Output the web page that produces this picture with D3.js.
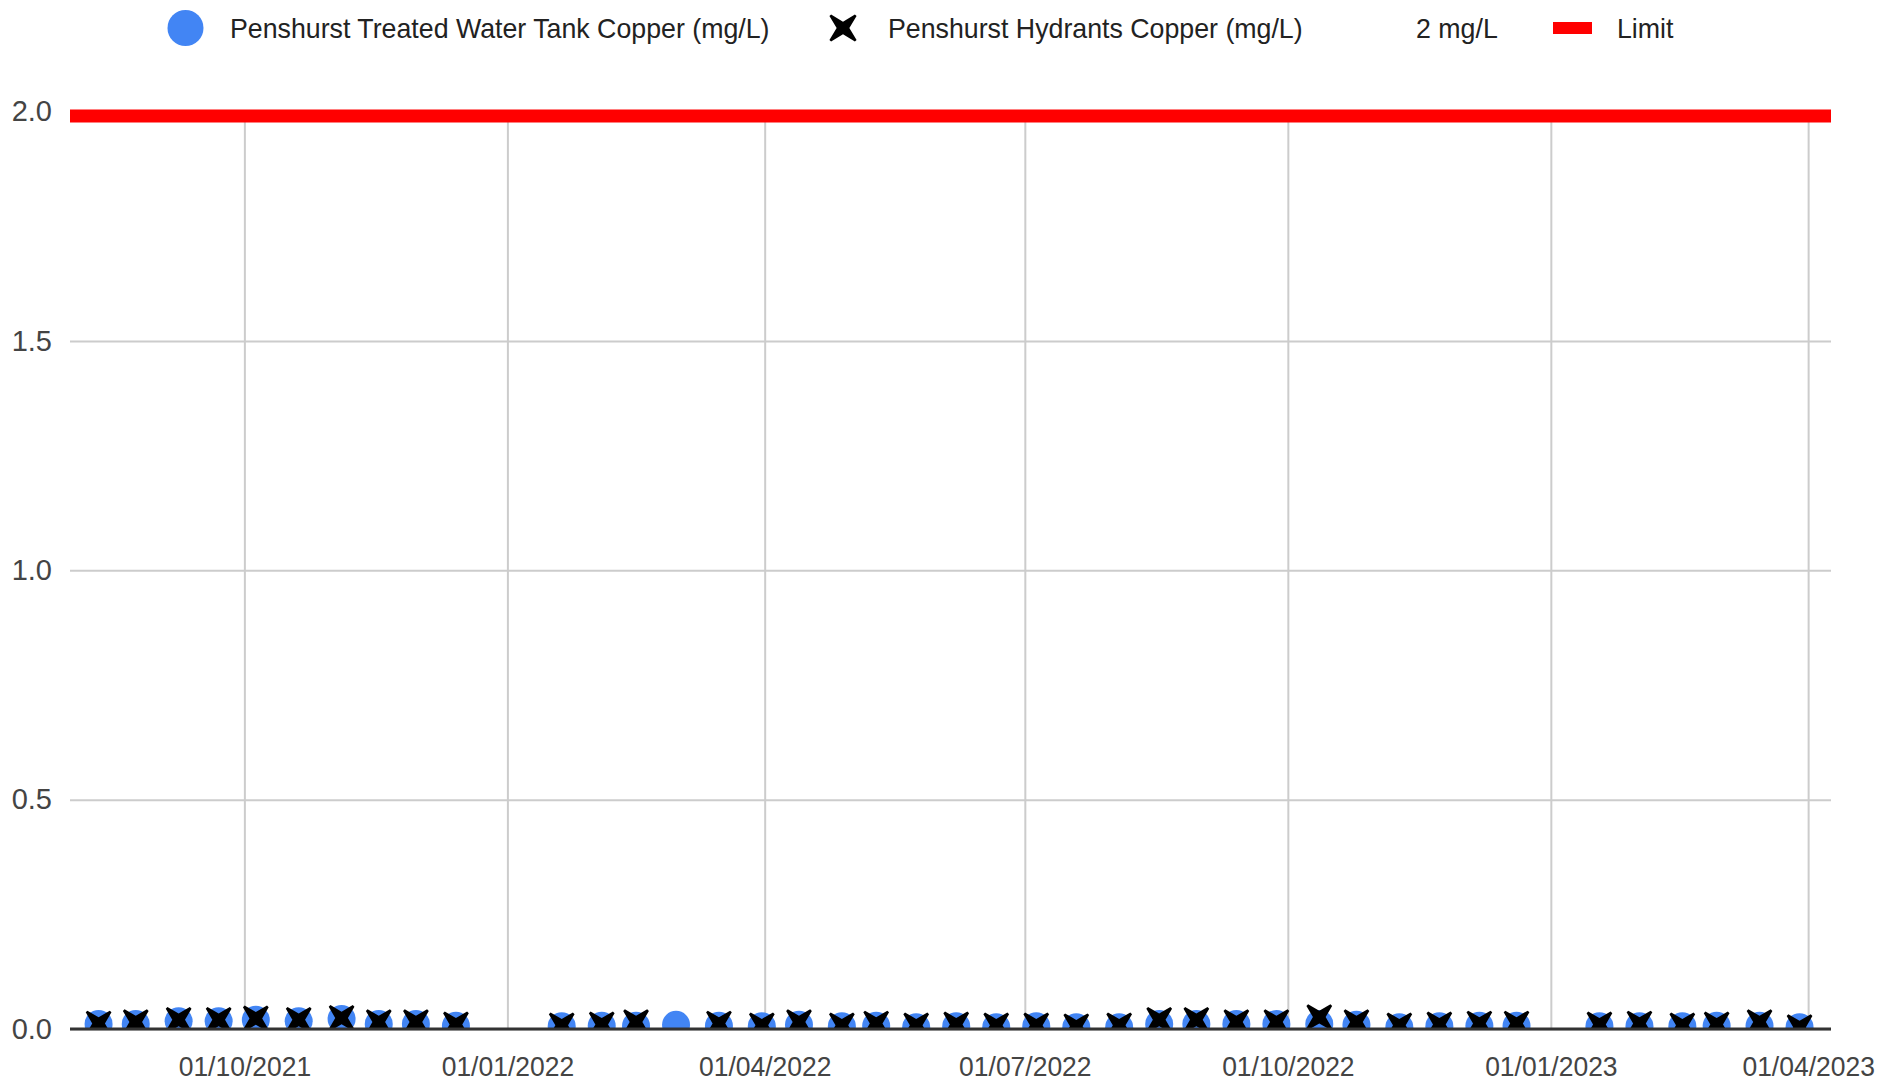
<!DOCTYPE html>
<html>
<head>
<meta charset="utf-8">
<script src="https://cdn.jsdelivr.net/npm/d3@7"></script>
<style>
  html, body { margin: 0; padding: 0; background: #fff; }
  svg { display: block; }
  text { font-family: Arial, "Liberation Sans", sans-serif; }
</style>
</head>
<body>
<svg id="chart" width="1901" height="1086"></svg>
<script>
// ---- Data ----
const sampleDates = [
  "2021-08-11","2021-08-24","2021-09-08","2021-09-22","2021-10-05","2021-10-20","2021-11-04",
  "2021-11-17","2021-11-30","2021-12-14","2022-01-20","2022-02-03","2022-02-15","2022-03-01",
  "2022-03-16","2022-03-31","2022-04-13","2022-04-28","2022-05-10","2022-05-24","2022-06-07",
  "2022-06-21","2022-07-05","2022-07-19","2022-08-03","2022-08-17","2022-08-30","2022-09-13",
  "2022-09-27","2022-10-12","2022-10-25","2022-11-09","2022-11-23","2022-12-07","2022-12-20",
  "2023-01-18","2023-02-01","2023-02-16","2023-02-28","2023-03-15","2023-03-29"
];
const tankCopper = [
  0.011,0.011,0.017,0.017,0.020,0.017,0.022,
  0.011,0.011,0.007,0.006,0.007,0.007,0.009,
  0.007,0.006,0.009,0.006,0.007,0.004,0.006,
  0.004,0.006,0.004,0.004,0.011,0.011,0.011,
  0.011,0.011,0.009,0.004,0.006,0.007,0.007,
  0.006,0.006,0.006,0.007,0.007,0.004
];
const hydrantCopper = [
  0.012,0.015,0.020,0.020,0.023,0.020,0.024,
  0.015,0.015,0.010,0.008,0.010,0.015,null,
  0.012,0.008,0.015,0.008,0.012,0.008,0.010,
  0.008,0.008,0.006,0.008,0.020,0.020,0.015,
  0.015,0.026,0.015,0.008,0.010,0.012,0.012,
  0.010,0.012,0.008,0.010,0.015,0.004
];
const limitValue = 2;
const limitDates = ["2021-08-01","2023-04-09"];
const yTicks = [0, 0.5, 1.0, 1.5, 2.0];
const yTickLabels = ["0.0","0.5","1.0","1.5","2.0"];
const xTickDates = ["2021-10-01","2022-01-01","2022-04-01","2022-07-01","2022-10-01","2023-01-01","2023-04-01"];
const xTickLabels = ["01/10/2021","01/01/2022","01/04/2022","01/07/2022","01/10/2022","01/01/2023","01/04/2023"];
const legendLabels = ["Penshurst Treated Water Tank Copper (mg/L)","Penshurst Hydrants Copper (mg/L)","2 mg/L","Limit"];

(function(){
// ---- Layout ----
const parse = d3.timeParse("%Y-%m-%d");
const pl = 70, pr = 1831, pt = 111.5, pb = 1029;
const svg = d3.select("#chart");
svg.append("rect").attr("width",1901).attr("height",1086).attr("fill","#fff");

const x = d3.scaleTime()
  .domain([parse("2021-08-01"), parse("2023-04-09")])
  .range([pl, pr]);
const y = d3.scaleLinear().domain([0, 2]).range([pb, pt]);

const blue = "#4285f4";
const textColor = "#444";

function condense(sel, f){
  sel.each(function(){
    const w = this.getComputedTextLength();
    this.setAttribute("textLength", (w*f).toFixed(2));
    this.setAttribute("lengthAdjust", "spacingAndGlyphs");
  });
}

// gridlines (horizontal) + y labels
const yAxis = d3.axisLeft(y).tickValues(yTicks).tickSize(-(pr-pl))
  .tickFormat((d,i)=>yTickLabels[i]).tickPadding(18);
const gy = svg.append("g").attr("transform",`translate(${pl},0)`).call(yAxis);
gy.select(".domain").remove();
gy.selectAll(".tick line").attr("stroke","#cccccc").attr("stroke-width",2);
gy.selectAll(".tick").filter(d=>d===2).select("line").remove();
gy.selectAll(".tick text").attr("fill",textColor).attr("font-size",29)
  .attr("font-family","Arial, 'Liberation Sans', sans-serif");

// gridlines (vertical) + x labels
const xAxis = d3.axisBottom(x).tickValues(xTickDates.map(parse))
  .tickSize(-(pb-pt)).tickFormat((d,i)=>xTickLabels[i]).tickPadding(27);
const gx = svg.append("g").attr("transform",`translate(0,${pb})`).call(xAxis);
gx.select(".domain").remove();
gx.selectAll(".tick line").attr("stroke","#cccccc").attr("stroke-width",2);
gx.selectAll(".tick text").attr("fill",textColor).attr("font-size",28)
  .attr("font-family","Arial, 'Liberation Sans', sans-serif");
condense(gx.selectAll(".tick text"), 0.945);

// limit line (thick band just under the 2.0 level, as in the source chart)
svg.append("line")
  .attr("x1", x(parse(limitDates[0]))).attr("x2", x(parse(limitDates[1])))
  .attr("y1", y(limitValue)+4.5).attr("y2", y(limitValue)+4.5)
  .attr("stroke","#ff0000").attr("stroke-width",13);

// clip to plot area (points are cut at the baseline)
svg.append("clipPath").attr("id","plotclip").append("rect")
  .attr("x",pl-30).attr("y",pt-30).attr("width",pr-pl+60).attr("height",pb-pt+30);

const plot = svg.append("g").attr("clip-path","url(#plotclip)");

plot.selectAll("circle.tank").data(sampleDates.map((d,i)=>({d:parse(d), v:tankCopper[i]})))
  .join("circle").attr("class","tank")
  .attr("cx", d=>x(d.d)).attr("cy", d=>y(d.v)).attr("r",14).attr("fill",blue);

// tapered X marker: a plus with narrowing arms, rotated 45 degrees
function crossX(L, h, t){
  const base = [[-t,-L],[t,-L],[h,-h],[L,-t],[L,t],[h,h],[t,L],[-t,L],[-h,h],[-L,t],[-L,-t],[-h,-h]];
  const c = Math.SQRT1_2;
  const pts = base.map(([a,b])=>[(a-b)*c,(a+b)*c]);
  return "M"+pts.map(p=>p[0].toFixed(2)+","+p[1].toFixed(2)).join("L")+"Z";
}

plot.selectAll("path.hyd").data(sampleDates.map((d,i)=>({d:parse(d), v:hydrantCopper[i]})).filter(d=>d.v!=null))
  .join("path").attr("class","hyd")
  .attr("transform", d=>`translate(${x(d.d)},${y(d.v)})`)
  .attr("d", crossX(17, 4.5, 1.2)).attr("fill","#000");

// baseline axis
svg.append("line").attr("x1",pl).attr("x2",pr).attr("y1",pb).attr("y2",pb)
  .attr("stroke","#333").attr("stroke-width",3);

// ---- Legend ----
const leg = svg.append("g");
const ly = 28;
leg.append("circle").attr("cx",185.5).attr("cy",ly).attr("r",18).attr("fill",blue);
leg.append("text").attr("x",230).attr("y",ly+10).text(legendLabels[0]);
leg.append("path").attr("transform",`translate(843,${ly})`).attr("d",crossX(18,4.5,1.2)).attr("fill","#000");
leg.append("text").attr("x",888).attr("y",ly+10).text(legendLabels[1]);
leg.append("text").attr("x",1416).attr("y",ly+10).text(legendLabels[2]);
leg.append("rect").attr("x",1553).attr("y",22).attr("width",39).attr("height",12).attr("fill","#ff0000");
leg.append("text").attr("x",1617).attr("y",ly+10).text(legendLabels[3]);
leg.selectAll("text").attr("font-size",28).attr("fill","#222");
condense(leg.selectAll("text"), 0.955);
})();
</script>
</body>
</html>
